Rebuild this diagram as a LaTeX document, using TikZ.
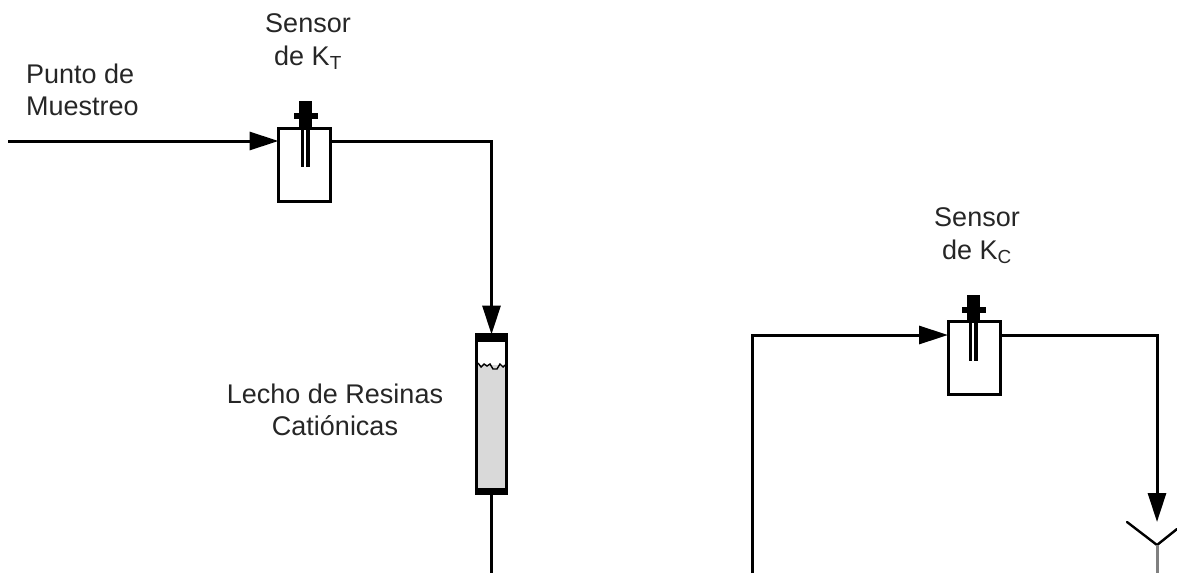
\documentclass[tikz,border=0pt]{standalone}
\usepackage{fontspec}
\setmainfont{Liberation Sans}
\usetikzlibrary{arrows.meta, positioning}
\tikzset{
  pipe/.style={line width=3pt},
  flow/.style={pipe, -{Triangle[length=29pt, width=18pt]}},
  sensorbox/.style={draw, line width=3pt, fill=white, minimum width=52pt, minimum height=73pt, inner sep=0pt, outer sep=0pt},
  columnbox/.style={draw, line width=3pt, fill=black!15, minimum width=30pt, minimum height=159pt, inner sep=0pt, outer sep=0pt},
  textlabel/.style={font=\fontsize{27}{32.5}\selectfont, align=center, inner sep=0pt, text=black!85},
  sensorhead/.pic={
    \fill (-6.5,-27) rectangle (6.5,0);
    \fill (-12,-15) rectangle (12,-9);
    \draw[line width=3.2pt] (-3.2,0) -- (-3.2,39);
    \draw[line width=4.2pt] (2.8,0) -- (2.8,39);
  }
}
\begin{document}
\begin{tikzpicture}[x=1pt, y=-1pt]
\useasboundingbox (0,0) rectangle (1177,573);
% first sensor and the column
\node[sensorbox] (sensorT) at (304.5,164.5) {};
\pic at (305.5,128) {sensorhead};
\node[columnbox] (column) at (491.5,414) {};
\fill[white] (478,340) -- (505,340) -- (505,365) -- (478,365) -- cycle;
\draw[line width=1.4pt] (478,363) -- (481,367) -- (484,364) -- (487,366) -- (490,364) -- (493,369) -- (497,369) -- (500,364) -- (503,367) -- (505,365);
\draw[line width=8pt] (476,338) -- (507,338);
\draw[line width=7pt] (476,491) -- (507,491);
% second sensor
\node[sensorbox] (sensorC) at (974,358) {};
\pic at (973.5,321.5) {sensorhead};
% free ends and corners
\coordinate (inT) at (8,141);
\coordinate (cornerT) at (491.5,141);
\coordinate (outColumn) at (491.5,573);
\coordinate (inC) at (752,573);
\coordinate (cornerC) at (752,335);
\coordinate (cornerD) at (1157,335);
\coordinate (tipD) at (1157,522);
\coordinate (forkD) at (1157,545);
\coordinate (forkL) at (1127,522);
\coordinate (forkR) at (1177,529);
\coordinate (outD) at (1157,573);
% connectors
\draw[flow] (inT) -- (inT -| sensorT.west);
\draw[flow] (sensorT.east |- inT) -- (cornerT) -- (column.north);
\draw[pipe] (column.south) -- (outColumn);
\draw[flow] (inC) -- (cornerC) -- (cornerC -| sensorC.west);
\draw[flow] (sensorC.east |- cornerC) -- (cornerD) -- (tipD);
\draw[line width=2.4pt, line cap=round] (forkL) -- (forkD) -- (forkR);
\draw[line width=3pt, black!50] (forkD) -- (outD);
% labels
\node[textlabel, align=left, anchor=north west] (puntoLabel) at (26,63.5) {Punto de\\Muestreo};
\node[textlabel, anchor=north] (sensorTLabel) at (308,13.5) {Sensor\\de K\textsubscript{T}};
\node[textlabel, anchor=north] (sensorCLabel) at (977,207.5) {Sensor\\de K\textsubscript{C}};
\node[textlabel, anchor=north] (columnLabel) at (335,383.5) {Lecho de Resinas\\Catiónicas};
\end{tikzpicture}
\end{document}
